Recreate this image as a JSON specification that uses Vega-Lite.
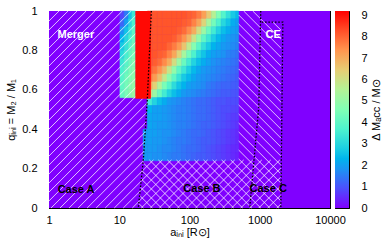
{
"$schema":"https://vega.github.io/schema/vega-lite/v6.json",
"padding":{"left":5,"top":4,"right":0,"bottom":0},
"spacing":5,
"bounds":"flush",
"config":{"view":{"stroke":"#000000","strokeWidth":1},"font":"Liberation Sans",
"axis":{"labelFont":"Liberation Sans","labelFontSize":11,"labelColor":"#000000","titleFont":"Liberation Sans","titleFontSize":11,"titleFontWeight":"normal","titleColor":"#000000","tickColor":"#000000","domainColor":"#000000","grid":false,"labelOverlap":false,"labelFlush":false}},
"hconcat":[
{"width":281,"height":197,
"resolve":{"axis":{"x":"independent","y":"independent"}},
"layer":[
{"data":{"values":[{"lx":0,"lx2":4,"q":0,"q2":1,"v":0}]},
"mark":{"type":"rect"},
"encoding":{
"x":{"field":"lx","type":"quantitative","scale":{"domain":[0,4],"nice":false,"zero":false},"axis":{"orient":"bottom","values":[0,0.30103,0.47712,0.60206,0.69897,0.77815,0.8451,0.90309,0.95424,1,1.30103,1.47712,1.60206,1.69897,1.77815,1.8451,1.90309,1.95424,2,2.30103,2.47712,2.60206,2.69897,2.77815,2.8451,2.90309,2.95424,3,3.30103,3.47712,3.60206,3.69897,3.77815,3.8451,3.90309,3.95424,4],"labelExpr":"datum.value % 1 == 0 ? format(pow(10, datum.value), 'd') : ''","tickSize":{"condition":{"test":"datum.value % 1 == 0","value":-5},"value":-3},"title":"aᵢₙᵢ [R⊙]","labelPadding":11,"titlePadding":-1}},
"x2":{"field":"lx2"},
"y":{"field":"q","type":"quantitative","scale":{"domain":[0,1],"nice":false,"zero":false},"axis":{"orient":"left","values":[0,0.2,0.4,0.6,0.8,1],"labelExpr":"datum.value == 0 ? '0' : datum.value == 1 ? '1' : format(datum.value, '.1f')","tickSize":-5,"title":"qᵢₙᵢ = M₂ / M₁","labelPadding":17,"titlePadding":5}},
"y2":{"field":"q2"},
"color":{"field":"v","type":"quantitative","scale":{"domain":[0,0.92,1.84,2.3,2.76,3.68,4.6,5.52,6.44,7.36,8.28,9.2],"range":["#8000ff","#4d4ffc","#1a96f3","#00b4ec","#1acee3","#4df3ce","#80ffb4","#b3f396","#e6ce74","#ff964f","#ff4f28","#ff0000"],"interpolate":"rgb"},"legend":null}}},
{"data":{"values":[
{"c":-5,"r":0,"v":0.8},{"c":-4,"r":0,"v":1.5},{"c":-3,"r":0,"v":2.6},{"c":-2,"r":0,"v":3.4},
{"c":-5,"r":1,"v":1.2},{"c":-4,"r":1,"v":2.0},{"c":-3,"r":1,"v":3.0},{"c":-2,"r":1,"v":3.7},
{"c":-5,"r":2,"v":1.8},{"c":-4,"r":2,"v":2.6},{"c":-3,"r":2,"v":3.3},{"c":-2,"r":2,"v":4.0},
{"c":-5,"r":3,"v":2.3},{"c":-4,"r":3,"v":3.0},{"c":-3,"r":3,"v":3.6},{"c":-2,"r":3,"v":4.2},
{"c":-5,"r":4,"v":2.7},{"c":-4,"r":4,"v":3.3},{"c":-3,"r":4,"v":3.9},{"c":-2,"r":4,"v":4.4},
{"c":-5,"r":5,"v":3.0},{"c":-4,"r":5,"v":3.6},{"c":-3,"r":5,"v":4.1},{"c":-2,"r":5,"v":4.5},
{"c":-5,"r":6,"v":3.3},{"c":-4,"r":6,"v":3.9},{"c":-3,"r":6,"v":4.3},{"c":-2,"r":6,"v":4.7},
{"c":-5,"r":7,"v":3.6},{"c":-4,"r":7,"v":4.1},{"c":-3,"r":7,"v":4.5},{"c":-2,"r":7,"v":4.8},
{"c":-5,"r":8,"v":3.8},{"c":-4,"r":8,"v":4.3},{"c":-3,"r":8,"v":4.6},{"c":-2,"r":8,"v":4.9},
{"c":-5,"r":9,"v":4.0},{"c":-4,"r":9,"v":4.4},{"c":-3,"r":9,"v":4.7},{"c":-2,"r":9,"v":5.0},
{"c":-5,"r":10,"v":4.1},{"c":-4,"r":10,"v":4.5},{"c":-3,"r":10,"v":4.8},{"c":-2,"r":10,"v":5.1},
{"c":-1,"r":15,"v":2.0},{"c":-1,"r":16,"v":2.0},{"c":-1,"r":17,"v":1.9},{"c":-1,"r":18,"v":1.9},
{"c":0,"r":0,"v":8.2},{"c":1,"r":0,"v":8.2},{"c":2,"r":0,"v":8.2},{"c":3,"r":0,"v":8.2},{"c":4,"r":0,"v":8.2},{"c":5,"r":0,"v":8.2},{"c":6,"r":0,"v":8.2},{"c":7,"r":0,"v":8.2},{"c":8,"r":0,"v":8.1},{"c":9,"r":0,"v":8.0},{"c":10,"r":0,"v":7.7},{"c":11,"r":0,"v":7.2},{"c":12,"r":0,"v":6.5},{"c":13,"r":0,"v":5.6},{"c":14,"r":0,"v":4.6},{"c":15,"r":0,"v":3.8},{"c":16,"r":0,"v":3.2},{"c":17,"r":0,"v":2.7},{"c":18,"r":0,"v":2.4},
{"c":0,"r":1,"v":8.2},{"c":1,"r":1,"v":8.2},{"c":2,"r":1,"v":8.2},{"c":3,"r":1,"v":8.2},{"c":4,"r":1,"v":8.2},{"c":5,"r":1,"v":8.2},{"c":6,"r":1,"v":8.2},{"c":7,"r":1,"v":8.1},{"c":8,"r":1,"v":8.0},{"c":9,"r":1,"v":7.6},{"c":10,"r":1,"v":7.1},{"c":11,"r":1,"v":6.3},{"c":12,"r":1,"v":5.3},{"c":13,"r":1,"v":4.4},{"c":14,"r":1,"v":3.7},{"c":15,"r":1,"v":3.0},{"c":16,"r":1,"v":2.6},{"c":17,"r":1,"v":2.2},{"c":18,"r":1,"v":2.0},
{"c":0,"r":2,"v":8.2},{"c":1,"r":2,"v":8.2},{"c":2,"r":2,"v":8.2},{"c":3,"r":2,"v":8.2},{"c":4,"r":2,"v":8.2},{"c":5,"r":2,"v":8.2},{"c":6,"r":2,"v":8.1},{"c":7,"r":2,"v":7.9},{"c":8,"r":2,"v":7.5},{"c":9,"r":2,"v":7.0},{"c":10,"r":2,"v":6.1},{"c":11,"r":2,"v":5.1},{"c":12,"r":2,"v":4.2},{"c":13,"r":2,"v":3.5},{"c":14,"r":2,"v":2.9},{"c":15,"r":2,"v":2.5},{"c":16,"r":2,"v":2.2},{"c":17,"r":2,"v":2.0},{"c":18,"r":2,"v":1.9},
{"c":0,"r":3,"v":8.2},{"c":1,"r":3,"v":8.2},{"c":2,"r":3,"v":8.2},{"c":3,"r":3,"v":8.2},{"c":4,"r":3,"v":8.2},{"c":5,"r":3,"v":8.1},{"c":6,"r":3,"v":7.8},{"c":7,"r":3,"v":7.4},{"c":8,"r":3,"v":6.8},{"c":9,"r":3,"v":5.9},{"c":10,"r":3,"v":4.9},{"c":11,"r":3,"v":4.0},{"c":12,"r":3,"v":3.4},{"c":13,"r":3,"v":2.8},{"c":14,"r":3,"v":2.4},{"c":15,"r":3,"v":2.1},{"c":16,"r":3,"v":1.9},{"c":17,"r":3,"v":1.8},{"c":18,"r":3,"v":1.7},
{"c":0,"r":4,"v":8.2},{"c":1,"r":4,"v":8.2},{"c":2,"r":4,"v":8.2},{"c":3,"r":4,"v":8.2},{"c":4,"r":4,"v":8.0},{"c":5,"r":4,"v":7.7},{"c":6,"r":4,"v":7.3},{"c":7,"r":4,"v":6.6},{"c":8,"r":4,"v":5.7},{"c":9,"r":4,"v":4.7},{"c":10,"r":4,"v":3.9},{"c":11,"r":4,"v":3.2},{"c":12,"r":4,"v":2.7},{"c":13,"r":4,"v":2.3},{"c":14,"r":4,"v":2.1},{"c":15,"r":4,"v":1.9},{"c":16,"r":4,"v":1.8},{"c":17,"r":4,"v":1.7},{"c":18,"r":4,"v":1.6},
{"c":0,"r":5,"v":8.2},{"c":1,"r":5,"v":8.2},{"c":2,"r":5,"v":8.1},{"c":3,"r":5,"v":8.0},{"c":4,"r":5,"v":7.6},{"c":5,"r":5,"v":7.1},{"c":6,"r":5,"v":6.3},{"c":7,"r":5,"v":5.3},{"c":8,"r":5,"v":4.4},{"c":9,"r":5,"v":3.7},{"c":10,"r":5,"v":3.0},{"c":11,"r":5,"v":2.6},{"c":12,"r":5,"v":2.2},{"c":13,"r":5,"v":2.0},{"c":14,"r":5,"v":1.9},{"c":15,"r":5,"v":1.8},{"c":16,"r":5,"v":1.6},{"c":17,"r":5,"v":1.5},{"c":18,"r":5,"v":1.4},
{"c":0,"r":6,"v":8.2},{"c":1,"r":6,"v":8.1},{"c":2,"r":6,"v":7.9},{"c":3,"r":6,"v":7.5},{"c":4,"r":6,"v":7.0},{"c":5,"r":6,"v":6.1},{"c":6,"r":6,"v":5.1},{"c":7,"r":6,"v":4.2},{"c":8,"r":6,"v":3.5},{"c":9,"r":6,"v":2.9},{"c":10,"r":6,"v":2.5},{"c":11,"r":6,"v":2.2},{"c":12,"r":6,"v":2.0},{"c":13,"r":6,"v":1.8},{"c":14,"r":6,"v":1.7},{"c":15,"r":6,"v":1.6},{"c":16,"r":6,"v":1.5},{"c":17,"r":6,"v":1.4},{"c":18,"r":6,"v":1.3},
{"c":0,"r":7,"v":8.1},{"c":1,"r":7,"v":7.8},{"c":2,"r":7,"v":7.4},{"c":3,"r":7,"v":6.8},{"c":4,"r":7,"v":5.9},{"c":5,"r":7,"v":4.9},{"c":6,"r":7,"v":4.0},{"c":7,"r":7,"v":3.4},{"c":8,"r":7,"v":2.8},{"c":9,"r":7,"v":2.4},{"c":10,"r":7,"v":2.1},{"c":11,"r":7,"v":1.9},{"c":12,"r":7,"v":1.8},{"c":13,"r":7,"v":1.7},{"c":14,"r":7,"v":1.6},{"c":15,"r":7,"v":1.5},{"c":16,"r":7,"v":1.4},{"c":17,"r":7,"v":1.3},{"c":18,"r":7,"v":1.2},
{"c":0,"r":8,"v":7.8},{"c":1,"r":8,"v":7.3},{"c":2,"r":8,"v":6.7},{"c":3,"r":8,"v":5.8},{"c":4,"r":8,"v":4.8},{"c":5,"r":8,"v":4.0},{"c":6,"r":8,"v":3.3},{"c":7,"r":8,"v":2.7},{"c":8,"r":8,"v":2.4},{"c":9,"r":8,"v":2.1},{"c":10,"r":8,"v":1.9},{"c":11,"r":8,"v":1.8},{"c":12,"r":8,"v":1.7},{"c":13,"r":8,"v":1.6},{"c":14,"r":8,"v":1.5},{"c":15,"r":8,"v":1.4},{"c":16,"r":8,"v":1.3},{"c":17,"r":8,"v":1.2},{"c":18,"r":8,"v":1.1},
{"c":0,"r":9,"v":7.2},{"c":1,"r":9,"v":6.4},{"c":2,"r":9,"v":5.5},{"c":3,"r":9,"v":4.5},{"c":4,"r":9,"v":3.8},{"c":5,"r":9,"v":3.1},{"c":6,"r":9,"v":2.6},{"c":7,"r":9,"v":2.3},{"c":8,"r":9,"v":2.0},{"c":9,"r":9,"v":1.9},{"c":10,"r":9,"v":1.8},{"c":11,"r":9,"v":1.7},{"c":12,"r":9,"v":1.5},{"c":13,"r":9,"v":1.4},{"c":14,"r":9,"v":1.3},{"c":15,"r":9,"v":1.2},{"c":16,"r":9,"v":1.2},{"c":17,"r":9,"v":1.1},{"c":18,"r":9,"v":1.1},
{"c":0,"r":10,"v":6.1},{"c":1,"r":10,"v":5.1},{"c":2,"r":10,"v":4.2},{"c":3,"r":10,"v":3.5},{"c":4,"r":10,"v":2.9},{"c":5,"r":10,"v":2.5},{"c":6,"r":10,"v":2.2},{"c":7,"r":10,"v":1.9},{"c":8,"r":10,"v":1.8},{"c":9,"r":10,"v":1.7},{"c":10,"r":10,"v":1.6},{"c":11,"r":10,"v":1.5},{"c":12,"r":10,"v":1.4},{"c":13,"r":10,"v":1.3},{"c":14,"r":10,"v":1.2},{"c":15,"r":10,"v":1.1},{"c":16,"r":10,"v":1.1},{"c":17,"r":10,"v":1.0},{"c":18,"r":10,"v":1.0},
{"c":0,"r":11,"v":3.5},{"c":1,"r":11,"v":2.9},{"c":2,"r":11,"v":2.5},{"c":3,"r":11,"v":2.2},{"c":4,"r":11,"v":1.9},{"c":5,"r":11,"v":1.8},{"c":6,"r":11,"v":1.7},{"c":7,"r":11,"v":1.6},{"c":8,"r":11,"v":1.5},{"c":9,"r":11,"v":1.4},{"c":10,"r":11,"v":1.3},{"c":11,"r":11,"v":1.3},{"c":12,"r":11,"v":1.2},{"c":13,"r":11,"v":1.1},{"c":14,"r":11,"v":1.0},{"c":15,"r":11,"v":1.0},{"c":16,"r":11,"v":0.9},{"c":17,"r":11,"v":0.9},{"c":18,"r":11,"v":0.9},
{"c":0,"r":12,"v":2.3},{"c":1,"r":12,"v":2.0},{"c":2,"r":12,"v":2.0},{"c":3,"r":12,"v":1.9},{"c":4,"r":12,"v":1.8},{"c":5,"r":12,"v":1.7},{"c":6,"r":12,"v":1.6},{"c":7,"r":12,"v":1.6},{"c":8,"r":12,"v":1.5},{"c":9,"r":12,"v":1.4},{"c":10,"r":12,"v":1.3},{"c":11,"r":12,"v":1.3},{"c":12,"r":12,"v":1.2},{"c":13,"r":12,"v":1.1},{"c":14,"r":12,"v":1.0},{"c":15,"r":12,"v":0.9},{"c":16,"r":12,"v":0.9},{"c":17,"r":12,"v":0.8},{"c":18,"r":12,"v":0.8},
{"c":0,"r":13,"v":2.1},{"c":1,"r":13,"v":2.0},{"c":2,"r":13,"v":2.0},{"c":3,"r":13,"v":1.9},{"c":4,"r":13,"v":1.8},{"c":5,"r":13,"v":1.7},{"c":6,"r":13,"v":1.6},{"c":7,"r":13,"v":1.6},{"c":8,"r":13,"v":1.5},{"c":9,"r":13,"v":1.4},{"c":10,"r":13,"v":1.3},{"c":11,"r":13,"v":1.3},{"c":12,"r":13,"v":1.2},{"c":13,"r":13,"v":1.1},{"c":14,"r":13,"v":1.0},{"c":15,"r":13,"v":0.9},{"c":16,"r":13,"v":0.8},{"c":17,"r":13,"v":0.7},{"c":18,"r":13,"v":0.7},
{"c":0,"r":14,"v":2.1},{"c":1,"r":14,"v":2.0},{"c":2,"r":14,"v":1.9},{"c":3,"r":14,"v":1.9},{"c":4,"r":14,"v":1.8},{"c":5,"r":14,"v":1.7},{"c":6,"r":14,"v":1.6},{"c":7,"r":14,"v":1.6},{"c":8,"r":14,"v":1.5},{"c":9,"r":14,"v":1.4},{"c":10,"r":14,"v":1.3},{"c":11,"r":14,"v":1.2},{"c":12,"r":14,"v":1.2},{"c":13,"r":14,"v":1.1},{"c":14,"r":14,"v":1.0},{"c":15,"r":14,"v":0.9},{"c":16,"r":14,"v":0.8},{"c":17,"r":14,"v":0.7},{"c":18,"r":14,"v":0.6},
{"c":0,"r":15,"v":2.0},{"c":1,"r":15,"v":2.0},{"c":2,"r":15,"v":1.9},{"c":3,"r":15,"v":1.8},{"c":4,"r":15,"v":1.8},{"c":5,"r":15,"v":1.7},{"c":6,"r":15,"v":1.6},{"c":7,"r":15,"v":1.5},{"c":8,"r":15,"v":1.4},{"c":9,"r":15,"v":1.3},{"c":10,"r":15,"v":1.3},{"c":11,"r":15,"v":1.2},{"c":12,"r":15,"v":1.1},{"c":13,"r":15,"v":1.0},{"c":14,"r":15,"v":0.9},{"c":15,"r":15,"v":0.8},{"c":16,"r":15,"v":0.7},{"c":17,"r":15,"v":0.6},{"c":18,"r":15,"v":0.5},
{"c":0,"r":16,"v":2.0},{"c":1,"r":16,"v":1.9},{"c":2,"r":16,"v":1.9},{"c":3,"r":16,"v":1.8},{"c":4,"r":16,"v":1.7},{"c":5,"r":16,"v":1.6},{"c":6,"r":16,"v":1.5},{"c":7,"r":16,"v":1.5},{"c":8,"r":16,"v":1.4},{"c":9,"r":16,"v":1.3},{"c":10,"r":16,"v":1.2},{"c":11,"r":16,"v":1.1},{"c":12,"r":16,"v":1.1},{"c":13,"r":16,"v":1.0},{"c":14,"r":16,"v":0.9},{"c":15,"r":16,"v":0.8},{"c":16,"r":16,"v":0.7},{"c":17,"r":16,"v":0.6},{"c":18,"r":16,"v":0.5},
{"c":0,"r":17,"v":1.9},{"c":1,"r":17,"v":1.9},{"c":2,"r":17,"v":1.8},{"c":3,"r":17,"v":1.7},{"c":4,"r":17,"v":1.7},{"c":5,"r":17,"v":1.6},{"c":6,"r":17,"v":1.5},{"c":7,"r":17,"v":1.4},{"c":8,"r":17,"v":1.3},{"c":9,"r":17,"v":1.3},{"c":10,"r":17,"v":1.2},{"c":11,"r":17,"v":1.1},{"c":12,"r":17,"v":1.0},{"c":13,"r":17,"v":0.9},{"c":14,"r":17,"v":0.8},{"c":15,"r":17,"v":0.7},{"c":16,"r":17,"v":0.6},{"c":17,"r":17,"v":0.5},{"c":18,"r":17,"v":0.5},
{"c":0,"r":18,"v":1.9},{"c":1,"r":18,"v":1.8},{"c":2,"r":18,"v":1.8},{"c":3,"r":18,"v":1.7},{"c":4,"r":18,"v":1.6},{"c":5,"r":18,"v":1.5},{"c":6,"r":18,"v":1.5},{"c":7,"r":18,"v":1.4},{"c":8,"r":18,"v":1.3},{"c":9,"r":18,"v":1.2},{"c":10,"r":18,"v":1.1},{"c":11,"r":18,"v":1.1},{"c":12,"r":18,"v":1.0},{"c":13,"r":18,"v":0.9},{"c":14,"r":18,"v":0.8},{"c":15,"r":18,"v":0.7},{"c":16,"r":18,"v":0.6},{"c":17,"r":18,"v":0.5},{"c":18,"r":18,"v":0.4}
]},
"transform":[
{"lookup":"c","from":{"data":{"values":[{"c":-5,"x0":1.01,"x1":1.07},{"c":-4,"x0":1.07,"x1":1.13},{"c":-3,"x0":1.13,"x1":1.18},{"c":-2,"x0":1.18,"x1":1.23},{"c":-1,"x0":1.34,"x1":1.40},{"c":0,"x0":1.40,"x1":1.47},{"c":1,"x0":1.47,"x1":1.54},{"c":2,"x0":1.54,"x1":1.61},{"c":3,"x0":1.61,"x1":1.68},{"c":4,"x0":1.68,"x1":1.75},{"c":5,"x0":1.75,"x1":1.82},{"c":6,"x0":1.82,"x1":1.89},{"c":7,"x0":1.89,"x1":1.96},{"c":8,"x0":1.96,"x1":2.03},{"c":9,"x0":2.03,"x1":2.10},{"c":10,"x0":2.10,"x1":2.17},{"c":11,"x0":2.17,"x1":2.24},{"c":12,"x0":2.24,"x1":2.31},{"c":13,"x0":2.31,"x1":2.38},{"c":14,"x0":2.38,"x1":2.45},{"c":15,"x0":2.45,"x1":2.52},{"c":16,"x0":2.52,"x1":2.59},{"c":17,"x0":2.59,"x1":2.66},{"c":18,"x0":2.66,"x1":2.70}]},"key":"c","fields":["x0","x1"]}},
{"lookup":"r","from":{"data":{"values":[{"r":0,"y0":0.96,"y1":1.0},{"r":1,"y0":0.92,"y1":0.96},{"r":2,"y0":0.88,"y1":0.92},{"r":3,"y0":0.84,"y1":0.88},{"r":4,"y0":0.80,"y1":0.84},{"r":5,"y0":0.76,"y1":0.80},{"r":6,"y0":0.72,"y1":0.76},{"r":7,"y0":0.68,"y1":0.72},{"r":8,"y0":0.64,"y1":0.68},{"r":9,"y0":0.60,"y1":0.64},{"r":10,"y0":0.56,"y1":0.60},{"r":11,"y0":0.52,"y1":0.56},{"r":12,"y0":0.48,"y1":0.52},{"r":13,"y0":0.44,"y1":0.48},{"r":14,"y0":0.40,"y1":0.44},{"r":15,"y0":0.36,"y1":0.40},{"r":16,"y0":0.32,"y1":0.36},{"r":17,"y0":0.28,"y1":0.32},{"r":18,"y0":0.24,"y1":0.28}]},"key":"r","fields":["y0","y1"]}}
],
"mark":{"type":"rect","strokeWidth":0.6},
"encoding":{
"x":{"field":"x0","type":"quantitative","axis":null},
"x2":{"field":"x1"},
"y":{"field":"y0","type":"quantitative","axis":null},
"y2":{"field":"y1"},
"color":{"field":"v","type":"quantitative","legend":null},
"stroke":{"field":"v","type":"quantitative","scale":{"domain":[0,0.92,1.84,2.3,2.76,3.68,4.6,5.52,6.44,7.36,8.28,9.2],"range":["#8000ff","#4d4ffc","#1a96f3","#00b4ec","#1acee3","#4df3ce","#80ffb4","#b3f396","#e6ce74","#ff964f","#ff4f28","#ff0000"],"interpolate":"rgb"},"legend":null}}},
{"data":{"values":[
{"x1":0,"y1":0.949,"x2":0.143,"y2":1},{"x1":0,"y1":0.904,"x2":0.271,"y2":1},{"x1":0,"y1":0.858,"x2":0.4,"y2":1},{"x1":0,"y1":0.812,"x2":0.529,"y2":1},{"x1":0,"y1":0.766,"x2":0.657,"y2":1},{"x1":0,"y1":0.721,"x2":0.786,"y2":1},{"x1":0,"y1":0.675,"x2":0.914,"y2":1},{"x1":0,"y1":0.629,"x2":1.043,"y2":1},{"x1":0,"y1":0.584,"x2":1.171,"y2":1},{"x1":0,"y1":0.538,"x2":1.3,"y2":1},{"x1":0,"y1":0.492,"x2":1.429,"y2":1},
{"x1":0,"y1":0.447,"x2":1.452,"y2":0.963},{"x1":0,"y1":0.401,"x2":1.446,"y2":0.915},{"x1":0,"y1":0.355,"x2":1.44,"y2":0.867},{"x1":0,"y1":0.31,"x2":1.434,"y2":0.819},{"x1":0,"y1":0.264,"x2":1.428,"y2":0.771},{"x1":0,"y1":0.218,"x2":1.422,"y2":0.723},{"x1":0,"y1":0.173,"x2":1.416,"y2":0.676},{"x1":0,"y1":0.127,"x2":1.409,"y2":0.628},{"x1":0,"y1":0.081,"x2":1.403,"y2":0.58},{"x1":0,"y1":0.036,"x2":1.396,"y2":0.532},
{"x1":0.029,"y1":0,"x2":1.387,"y2":0.483},{"x1":0.157,"y1":0,"x2":1.378,"y2":0.434},{"x1":0.286,"y1":0,"x2":1.369,"y2":0.385},{"x1":0.414,"y1":0,"x2":1.36,"y2":0.336},{"x1":0.543,"y1":0,"x2":1.351,"y2":0.287},
{"x1":0.671,"y1":0,"x2":1.357,"y2":0.244},{"x1":0.8,"y1":0,"x2":1.486,"y2":0.244},{"x1":0.929,"y1":0,"x2":1.614,"y2":0.244},{"x1":1.057,"y1":0,"x2":1.743,"y2":0.244},{"x1":1.186,"y1":0,"x2":1.871,"y2":0.244},{"x1":1.314,"y1":0,"x2":2.0,"y2":0.244},{"x1":1.443,"y1":0,"x2":2.129,"y2":0.244},{"x1":1.571,"y1":0,"x2":2.257,"y2":0.244},{"x1":1.7,"y1":0,"x2":2.386,"y2":0.244},{"x1":1.829,"y1":0,"x2":2.514,"y2":0.244},{"x1":1.957,"y1":0,"x2":2.643,"y2":0.244},{"x1":2.086,"y1":0,"x2":2.771,"y2":0.244},{"x1":2.214,"y1":0,"x2":2.9,"y2":0.244},{"x1":2.343,"y1":0,"x2":3.029,"y2":0.244},{"x1":2.471,"y1":0,"x2":3.157,"y2":0.244},{"x1":2.6,"y1":0,"x2":3.286,"y2":0.244},
{"x1":2.729,"y1":0,"x2":3.3,"y2":0.203},{"x1":2.857,"y1":0,"x2":3.3,"y2":0.157},{"x1":2.986,"y1":0,"x2":3.3,"y2":0.112},{"x1":3.114,"y1":0,"x2":3.3,"y2":0.066},{"x1":3.243,"y1":0,"x2":3.3,"y2":0.02},
{"x1":1.278,"y1":0.023,"x2":1.343,"y2":0},{"x1":1.29,"y1":0.064,"x2":1.471,"y2":0},{"x1":1.302,"y1":0.106,"x2":1.6,"y2":0},{"x1":1.315,"y1":0.147,"x2":1.729,"y2":0},{"x1":1.327,"y1":0.188,"x2":1.857,"y2":0},{"x1":1.339,"y1":0.23,"x2":1.986,"y2":0},
{"x1":1.429,"y1":0.244,"x2":2.114,"y2":0},{"x1":1.557,"y1":0.244,"x2":2.243,"y2":0},{"x1":1.686,"y1":0.244,"x2":2.371,"y2":0},{"x1":1.814,"y1":0.244,"x2":2.5,"y2":0},{"x1":1.943,"y1":0.244,"x2":2.629,"y2":0},{"x1":2.071,"y1":0.244,"x2":2.757,"y2":0},{"x1":2.2,"y1":0.244,"x2":2.886,"y2":0},{"x1":2.329,"y1":0.244,"x2":3.014,"y2":0},{"x1":2.457,"y1":0.244,"x2":3.143,"y2":0},{"x1":2.586,"y1":0.244,"x2":3.271,"y2":0},
{"x1":2.7,"y1":0.249,"x2":3.3,"y2":0.036},{"x1":2.7,"y1":0.294,"x2":3.3,"y2":0.081},{"x1":2.7,"y1":0.34,"x2":3.3,"y2":0.127},{"x1":2.7,"y1":0.386,"x2":3.3,"y2":0.173},{"x1":2.7,"y1":0.431,"x2":3.3,"y2":0.218},{"x1":2.7,"y1":0.477,"x2":3.3,"y2":0.264},{"x1":2.7,"y1":0.523,"x2":3.3,"y2":0.31},{"x1":2.7,"y1":0.569,"x2":3.3,"y2":0.355},{"x1":2.7,"y1":0.614,"x2":3.3,"y2":0.401},{"x1":2.7,"y1":0.66,"x2":3.3,"y2":0.447},{"x1":2.7,"y1":0.706,"x2":3.3,"y2":0.492},{"x1":2.7,"y1":0.751,"x2":3.3,"y2":0.538},{"x1":2.7,"y1":0.797,"x2":3.3,"y2":0.584},{"x1":2.7,"y1":0.843,"x2":3.3,"y2":0.629},{"x1":2.7,"y1":0.888,"x2":3.3,"y2":0.675},{"x1":2.7,"y1":0.934,"x2":3.3,"y2":0.721},{"x1":2.7,"y1":0.98,"x2":3.3,"y2":0.766},{"x1":2.771,"y1":1,"x2":3.3,"y2":0.812},{"x1":2.9,"y1":1,"x2":3.3,"y2":0.858},{"x1":3.186,"y1":0.944,"x2":3.3,"y2":0.904}
]},
"mark":{"type":"rule","color":"#ffffff","opacity":0.75,"strokeWidth":1},
"encoding":{
"x":{"field":"x1","type":"quantitative","axis":null},
"x2":{"field":"x2"},
"y":{"field":"y1","type":"quantitative","axis":null},
"y2":{"field":"y2"}}},
{"data":{"values":[{"x0":1.23,"x1":1.45,"y0":0.555,"y1":1,"v":9.1}]},
"mark":{"type":"rect","strokeWidth":0.6},
"encoding":{
"x":{"field":"x0","type":"quantitative","axis":null},
"x2":{"field":"x1"},
"y":{"field":"y0","type":"quantitative","axis":null},
"y2":{"field":"y1"},
"color":{"field":"v","type":"quantitative","legend":null}}},
{"data":{"values":[
{"id":"A","o":0,"lx":1.457,"q":1},{"id":"A","o":1,"lx":1.4,"q":0.553},{"id":"A","o":2,"lx":1.343,"q":0.244},{"id":"A","o":3,"lx":1.271,"q":0},
{"id":"B","o":0,"lx":3.014,"q":1},{"id":"B","o":1,"lx":2.986,"q":0.513},{"id":"B","o":2,"lx":2.857,"q":0},
{"id":"C","o":0,"lx":3.029,"q":0.944},{"id":"C","o":1,"lx":3.329,"q":0.944},{"id":"C","o":2,"lx":3.3,"q":0}
]},
"mark":{"type":"line","color":"#000000","strokeWidth":1.3,"strokeDash":[1.5,1.8]},
"encoding":{
"x":{"field":"lx","type":"quantitative","axis":null},
"y":{"field":"q","type":"quantitative","axis":null},
"detail":{"field":"id"},
"order":{"field":"o"}}},
{"data":{"values":[{"lx":0.383,"q":0.876,"t":"Merger"},{"lx":3.19,"q":0.876,"t":"CE"}]},
"mark":{"type":"text","color":"#ffffff","font":"Liberation Sans","fontWeight":"bold","fontSize":11},
"encoding":{
"x":{"field":"lx","type":"quantitative","axis":null},
"y":{"field":"q","type":"quantitative","axis":null},
"text":{"field":"t"}}},
{"data":{"values":[{"lx":0.386,"q":0.093,"t":"Case A"},{"lx":2.176,"q":0.096,"t":"Case B"},{"lx":3.12,"q":0.096,"t":"Case C"}]},
"mark":{"type":"text","color":"#000000","font":"Liberation Sans","fontWeight":"bold","fontSize":11},
"encoding":{
"x":{"field":"lx","type":"quantitative","axis":null},
"y":{"field":"q","type":"quantitative","axis":null},
"text":{"field":"t"}}},
{"data":{"values":[{"lx":0,"lx2":4,"q":0,"q2":1}]},
"mark":{"type":"rect","opacity":0},
"encoding":{
"x":{"field":"lx","type":"quantitative","axis":{"orient":"top","values":[0,0.30103,0.47712,0.60206,0.69897,0.77815,0.8451,0.90309,0.95424,1,1.30103,1.47712,1.60206,1.69897,1.77815,1.8451,1.90309,1.95424,2,2.30103,2.47712,2.60206,2.69897,2.77815,2.8451,2.90309,2.95424,3,3.30103,3.47712,3.60206,3.69897,3.77815,3.8451,3.90309,3.95424,4],"labels":false,"title":null,"tickSize":{"condition":{"test":"datum.value % 1 == 0","value":-5},"value":-3}}},
"x2":{"field":"lx2"},
"y":{"field":"q","type":"quantitative","axis":{"orient":"right","values":[0,0.2,0.4,0.6,0.8,1],"labels":false,"title":null,"tickSize":-5}},
"y2":{"field":"q2"}}}
]},
{"width":14,"height":197,
"data":{"values":[{"lo":0,"hi":9.2,"l":0,"r":1}]},
"resolve":{"axis":{"y":"independent"}},
"layer":[
{"mark":{"type":"rect","fill":{"gradient":"linear","x1":0,"y1":1,"x2":0,"y2":0,"stops":[{"offset":0,"color":"#8000ff"},{"offset":0.1,"color":"#4d4ffc"},{"offset":0.2,"color":"#1a96f3"},{"offset":0.25,"color":"#00b4ec"},{"offset":0.3,"color":"#1acee3"},{"offset":0.4,"color":"#4df3ce"},{"offset":0.5,"color":"#80ffb4"},{"offset":0.6,"color":"#b3f396"},{"offset":0.7,"color":"#e6ce74"},{"offset":0.8,"color":"#ff964f"},{"offset":0.9,"color":"#ff4f28"},{"offset":1,"color":"#ff0000"}]}},
"encoding":{
"x":{"field":"l","type":"quantitative","scale":{"domain":[0,1],"nice":false,"zero":false},"axis":null},
"x2":{"field":"r"},
"y":{"field":"lo","type":"quantitative","scale":{"domain":[0,9.2],"nice":false,"zero":false},"axis":{"orient":"right","values":[0,1,2,3,4,5,6,7,8,9],"tickSize":-3,"labelPadding":15,"title":"Δ Mₐcc / M⊙","titleAngle":270,"titleBaseline":"top","titlePadding":3}},
"y2":{"field":"hi"}}},
{"mark":{"type":"rect","opacity":0},
"encoding":{
"x":{"field":"l","type":"quantitative","axis":null},
"x2":{"field":"r"},
"y":{"field":"lo","type":"quantitative","axis":{"orient":"left","values":[0,1,2,3,4,5,6,7,8,9],"tickSize":-3,"labels":false,"title":null}},
"y2":{"field":"hi"}}}
]}
]
}
